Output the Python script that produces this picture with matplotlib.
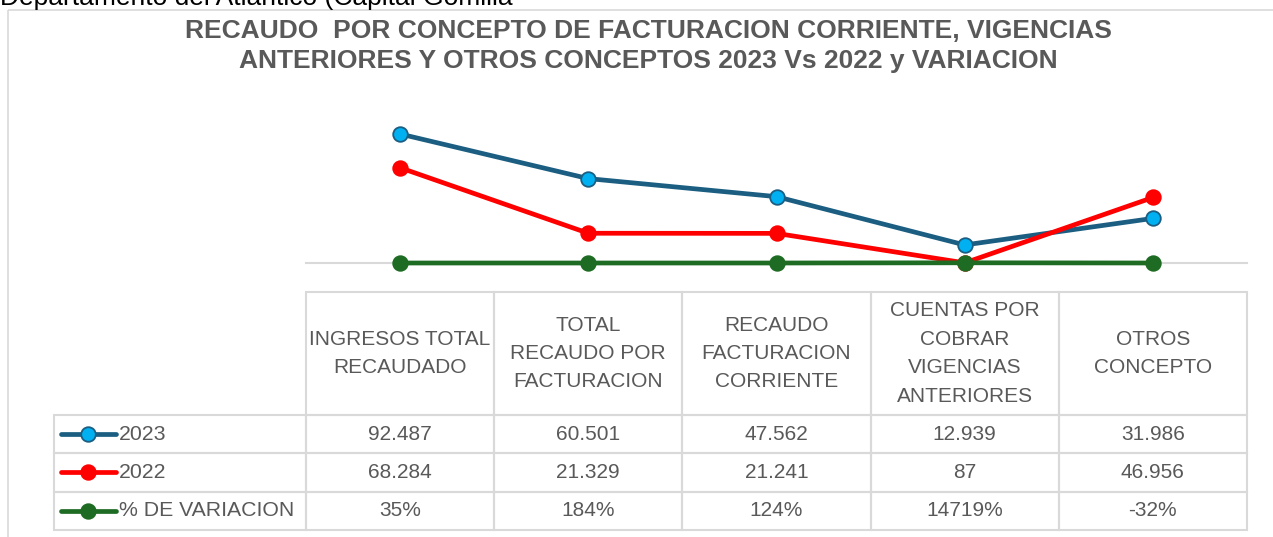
import matplotlib
matplotlib.use("Agg")
import matplotlib.pyplot as plt
from matplotlib.table import Table
from matplotlib.patches import Rectangle

plt.rcParams["font.family"] = ["Liberation Sans", "DejaVu Sans"]

CATEGORIAS = [
    "INGRESOS TOTAL\nRECAUDADO",
    "TOTAL\nRECAUDO POR\nFACTURACION",
    "RECAUDO\nFACTURACION\nCORRIENTE",
    "CUENTAS POR\nCOBRAR\nVIGENCIAS\nANTERIORES",
    "OTROS\nCONCEPTO",
]
SERIES = ["2023", "2022", "% DE VARIACION"]
V2023 = [92487, 60501, 47562, 12939, 31986]
V2022 = [68284, 21329, 21241, 87, 46956]
VAR_PCT = [35, 184, 124, 14719, -32]

TITULO = ("RECAUDO  POR CONCEPTO DE FACTURACION CORRIENTE, VIGENCIAS\n"
          "ANTERIORES Y OTROS CONCEPTOS 2023 Vs 2022 y VARIACION")
ENCABEZADO = "Departamento del Atlantico (Capital Gomilla"

# estilo
C23, C23_FACE = "#1B5E82", "#00B0F0"
C22 = "#FF0000"
CVAR = "#1E6B24"
GRIS = "#595959"
BORDE = "#D9D9D9"

W, H = 1273, 537
fig = plt.figure(figsize=(W / 100, H / 100), dpi=100)

# capa de fondo en coordenadas de píxel
bg = fig.add_axes([0, 0, 1, 1])
bg.set_xlim(0, W)
bg.set_ylim(H, 0)
bg.axis("off")

bg.add_patch(Rectangle((8, 10), W + 20, H + 20, fill=False,
                       edgecolor=BORDE, lw=1.2))
bg.text(0, 5, ENCABEZADO, fontsize=19, color="black", va="baseline")
bg.text(648, 46, TITULO, ha="center", va="center", fontsize=19,
        fontweight="bold", color=GRIS, linespacing=1.3)

# geometría del gráfico / tabla
X_LAB, X_PLOT, X_END = 54, 306, 1247
Y_BASE, Y_HEAD, Y_HEAD_END, ROW_H = 263, 292, 415, 38.3
n = len(CATEGORIAS)
col_w = (X_END - X_PLOT) / n

ax = fig.add_axes([X_PLOT / W, 1 - Y_BASE / H,
                   (X_END - X_PLOT) / W, 139.5 / H])
ax.set_xlim(-0.5, n - 0.5)
ax.set_ylim(0, 100000)
for s in ["top", "left", "right"]:
    ax.spines[s].set_visible(False)
ax.spines["bottom"].set_color(BORDE)
ax.spines["bottom"].set_linewidth(1.5)
ax.set_xticks([])
ax.set_yticks([])
ax.patch.set_alpha(0)

xs = range(n)
var_frac = [v / 100 for v in VAR_PCT]
estilos = [
    (V2023, dict(color=C23, mfc=C23_FACE, mec=C23)),
    (V2022, dict(color=C22, mfc=C22, mec=C22)),
    (var_frac, dict(color=CVAR, mfc=CVAR, mec=CVAR)),
]
for vals, st in estilos:
    ax.plot(xs, vals, lw=3.4, marker="o", ms=10.5, mew=1.3,
            clip_on=False, zorder=3, **st)

# tabla de datos
total_h = Y_HEAD_END - Y_HEAD + 3 * ROW_H
tab = Table(bg, bbox=[X_LAB / W, 1 - (Y_HEAD + total_h) / H,
                      (X_END - X_LAB) / W, total_h / H])
tab.auto_set_font_size(False)

filas = [
    [f"{v:,}".replace(",", ".") for v in V2023],
    [f"{v:,}".replace(",", ".") for v in V2022],
    [f"{v}%" for v in VAR_PCT],
]
for j, cat in enumerate(CATEGORIAS):
    c = tab.add_cell(0, j + 1, col_w, Y_HEAD_END - Y_HEAD, text=cat,
                     loc="center", edgecolor=BORDE, facecolor="none")
    c.get_text().set_linespacing(1.63)
for i, fila in enumerate(filas):
    tab.add_cell(i + 1, 0, X_PLOT - X_LAB, ROW_H, text="",
                 edgecolor=BORDE, facecolor="none")
    for j, t in enumerate(fila):
        tab.add_cell(i + 1, j + 1, col_w, ROW_H, text=t, loc="center",
                     edgecolor=BORDE, facecolor="none")
for cell in tab.get_celld().values():
    cell.set_linewidth(1.5)
    cell.get_text().set_fontsize(15)
    cell.get_text().set_color(GRIS)
bg.add_table(tab)

# muestras de la leyenda en la columna de etiquetas
for i, (nombre, (vals, st)) in enumerate(zip(SERIES, estilos)):
    yc = Y_HEAD_END + (i + 0.5) * ROW_H
    bg.plot([61, 116], [yc, yc], color=st["color"], lw=3.4,
            solid_capstyle="round")
    bg.plot([88], [yc], marker="o", ms=10.5, mew=1.3, mfc=st["mfc"],
            mec=st["mec"], ls="none")
    bg.text(119, yc, nombre, fontsize=15.3, color=GRIS, va="center",
            ha="left")

fig.savefig("out.png", dpi=100)
